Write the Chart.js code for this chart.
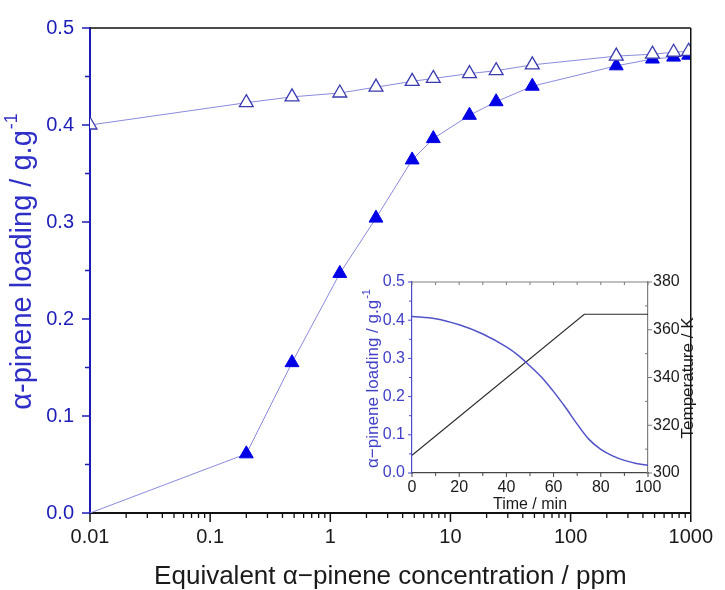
<!DOCTYPE html>
<html>
<head>
<meta charset="utf-8">
<script src="https://cdn.jsdelivr.net/npm/chart.js@4.4.1/dist/chart.umd.min.js"></script>
<style>
  html, body { margin: 0; padding: 0; background: #ffffff; }
  #wrap { position: relative; width: 725px; height: 590px; }
  #wrap canvas { position: absolute; left: 0; top: 0; }
</style>
</head>
<body>
<div id="wrap">
  <canvas id="main" width="725" height="590"></canvas>
  <canvas id="inset" width="725" height="590"></canvas>
</div>
<script>
// ---- Isotherm data: equivalent concentration (ppm) shared by both series ----
const concentration = [0.01, 0.2, 0.48, 1.2, 2.4, 4.8, 7.2, 14.4, 24, 48, 240, 480, 720, 960];
const loadingFilled = [0.000, 0.061, 0.155, 0.247, 0.304, 0.364, 0.386, 0.410, 0.424, 0.440, 0.461, 0.468, 0.470, 0.472];
const loadingOpen   = [0.400, 0.423, 0.429, 0.433, 0.439, 0.445, 0.448, 0.453, 0.456, 0.462, 0.471, 0.473, 0.475, 0.476];

// main axis ticks
const xTickValues = [0.01, 0.1, 1, 10, 100, 1000];
const yTickValues = [0, 0.1, 0.2, 0.3, 0.4, 0.5];
const yMinorValues = [0.05, 0.15, 0.25, 0.35, 0.45];

// ---- Inset: loading and temperature during the heating run ----
const timeMin     = [0, 10, 20, 30, 40, 45, 50, 55, 60, 65, 70, 75, 80, 85, 90, 95, 100];
const loadingTime = [0.410, 0.404, 0.388, 0.364, 0.330, 0.308, 0.280, 0.250, 0.213, 0.172, 0.128, 0.088, 0.062, 0.045, 0.033, 0.025, 0.020];
const rampTime    = [0, 73, 100];
const rampTemp    = [307.4, 366.5, 366.5];

// inset axis ticks
const insetXTicks = [0, 20, 40, 60, 80, 100];
const insetXMinor = [10, 30, 50, 70, 90];
const insetYTicks = [0, 0.1, 0.2, 0.3, 0.4, 0.5];
const insetYMinor = [0.05, 0.15, 0.25, 0.35, 0.45];
const insetTTicks = [300, 320, 340, 360, 380];
const insetTMinor = [310, 330, 350, 370];

const FONT = '"Liberation Sans", Arial, Helvetica, sans-serif';

// minor ticks of a log axis: 2..9 within each decade
function logMinor(decades) {
  const out = [];
  for (let i = 0; i < decades.length - 1; i++) {
    for (let k = 2; k <= 9; k++) out.push(decades[i] * k);
  }
  return out;
}

// Draws tick marks on chart-area edges through the chart's own scales
const tickMarks = {
  id: 'tickMarks',
  afterDraw(chart, args, opts) {
    const ctx = chart.ctx;
    const a = chart.chartArea;
    (opts.sets || []).forEach(s => {
      const scale = chart.scales[s.scale];
      ctx.save();
      ctx.strokeStyle = s.color;
      ctx.lineWidth = s.width;
      ctx.beginPath();
      s.values.forEach(v => {
        const p = scale.getPixelForValue(v);
        const d = s.len * (s.inward ? -1 : 1);
        if (s.edge === 'bottom') { ctx.moveTo(p, a.bottom); ctx.lineTo(p, a.bottom + d); }
        else if (s.edge === 'top') { ctx.moveTo(p, a.top); ctx.lineTo(p, a.top - d); }
        else if (s.edge === 'left') { ctx.moveTo(a.left, p); ctx.lineTo(a.left - d, p); }
        else if (s.edge === 'right') { ctx.moveTo(a.right, p); ctx.lineTo(a.right + d, p); }
      });
      ctx.stroke();
      ctx.restore();
    });
  }
};

// Frame lines along the top / right of the plotting area
const frame = {
  id: 'frame',
  afterDraw(chart, args, opts) {
    const ctx = chart.ctx;
    const a = chart.chartArea;
    (opts.lines || []).forEach(l => {
      ctx.save();
      ctx.strokeStyle = l.color;
      ctx.lineWidth = l.width;
      ctx.beginPath();
      if (l.edge === 'top') { ctx.moveTo(a.left, a.top); ctx.lineTo(a.right, a.top); }
      if (l.edge === 'right') { ctx.moveTo(a.right, a.top); ctx.lineTo(a.right, a.bottom); }
      ctx.stroke();
      ctx.restore();
    });
  }
};

// Rotated axis titles (bottom-to-top), with optional superscript
const sideTitles = {
  id: 'sideTitles',
  afterDraw(chart, args, opts) {
    const ctx = chart.ctx;
    (opts.items || []).forEach(t => {
      ctx.save();
      ctx.translate(t.x, t.y);
      ctx.rotate(-Math.PI / 2);
      ctx.fillStyle = t.color;
      ctx.textBaseline = 'middle';
      ctx.textAlign = 'left';
      const mainFont = t.size + 'px ' + FONT;
      const supFont = Math.round(t.size * 0.62) + 'px ' + FONT;
      ctx.font = mainFont;
      const w1 = ctx.measureText(t.text).width;
      let w2 = 0;
      if (t.sup) { ctx.font = supFont; w2 = ctx.measureText(t.sup).width; }
      const x0 = -(w1 + w2) / 2;
      ctx.font = mainFont;
      ctx.fillText(t.text, x0, 0);
      if (t.sup) {
        ctx.font = supFont;
        ctx.fillText(t.sup, x0 + w1 + 1, -t.size * 0.38);
      }
      ctx.restore();
    });
  }
};

const toXY = (xs, ys) => xs.map((x, i) => ({ x: x, y: ys[i] }));

// ---------------- main isotherm chart ----------------
const BLUE_AXIS = '#1c1cb4';
new Chart(document.getElementById('main'), {
  type: 'scatter',
  data: {
    datasets: [
      {
        label: 'open',
        data: toXY(concentration, loadingOpen),
        showLine: true,
        borderColor: '#8a8ade',
        borderWidth: 1,
        pointStyle: 'triangle',
        pointRadius: 8,
        pointBackgroundColor: '#ffffff',
        pointBorderColor: '#3a3ab0',
        pointBorderWidth: 1.3,
        order: 0
      },
      {
        label: 'filled',
        data: toXY(concentration, loadingFilled),
        showLine: true,
        borderColor: '#8a8ade',
        borderWidth: 1,
        pointStyle: 'triangle',
        // the corner point sits on the axes and carries no marker
        pointRadius: ctx => (ctx.dataIndex === 0 ? 0 : 8),
        pointBackgroundColor: '#0000e6',
        pointBorderColor: '#0000e6',
        pointBorderWidth: 1,
        order: 1
      }
    ]
  },
  options: {
    responsive: false,
    animation: false,
    events: [],
    layout: { padding: { left: 0, top: 23, right: 26, bottom: 0 } },
    plugins: {
      legend: { display: false },
      tooltip: { enabled: false },
      tickMarks: {
        sets: [
          { scale: 'x', edge: 'bottom', values: xTickValues, len: 9, color: '#111', width: 1.5 },
          { scale: 'x', edge: 'bottom', values: logMinor(xTickValues), len: 5, color: '#111', width: 1.3 },
          { scale: 'y', edge: 'left', values: yTickValues, len: 8, color: BLUE_AXIS, width: 1.5 },
          { scale: 'y', edge: 'left', values: yMinorValues, len: 5, color: BLUE_AXIS, width: 1.5 }
        ]
      },
      frame: { lines: [ { edge: 'top', color: '#111', width: 1.5 }, { edge: 'right', color: '#111', width: 1.5 } ] },
      sideTitles: {
        items: [ { text: 'α-pinene loading / g.g', sup: '-1', x: 23, y: 262, size: 29, color: '#2f2fc8' } ]
      }
    },
    scales: {
      x: {
        type: 'logarithmic',
        min: 0.01, max: 1000,
        afterBuildTicks: s => { s.ticks = xTickValues.map(v => ({ value: v })); },
        afterFit: s => { s.height = 77; },
        ticks: {
          callback: v => String(v),
          autoSkip: false, maxRotation: 0,
          font: { family: FONT, size: 20 },
          color: '#1a1a1a',
          padding: 12
        },
        grid: { display: false, drawTicks: false },
        border: { display: true, color: '#111', width: 2 },
        title: {
          display: true,
          text: 'Equivalent α−pinene concentration / ppm',
          font: { family: FONT, size: 26, lineHeight: 1 },
          color: '#1a1a1a',
          padding: 0
        }
      },
      y: {
        type: 'linear',
        min: 0, max: 0.5,
        afterBuildTicks: s => { s.ticks = yTickValues.map(v => ({ value: v })); },
        afterFit: s => { s.width = 90; },
        ticks: {
          callback: v => v.toFixed(1),
          font: { family: FONT, size: 20 },
          color: '#1c1cb8',
          padding: 16
        },
        grid: { display: false, drawTicks: false },
        border: { display: true, color: BLUE_AXIS, width: 2 }
      }
    }
  },
  plugins: [tickMarks, frame, sideTitles]
});

// ---------------- inset: heating run ----------------
const INSET_BLUE = '#4b4bcc';
new Chart(document.getElementById('inset'), {
  type: 'scatter',
  data: {
    datasets: [
      {
        label: 'loading',
        data: toXY(timeMin, loadingTime),
        yAxisID: 'y',
        showLine: true,
        borderColor: '#5252c8',
        borderWidth: 1.5,
        pointRadius: 0,
        cubicInterpolationMode: 'monotone'
      },
      {
        label: 'temperature',
        data: toXY(rampTime, rampTemp),
        yAxisID: 'y2',
        showLine: true,
        borderColor: '#2a2a2a',
        borderWidth: 1.2,
        pointRadius: 0,
        tension: 0
      }
    ]
  },
  options: {
    responsive: false,
    animation: false,
    events: [],
    layout: { padding: { left: 340, top: 282, right: 20, bottom: 77 } },
    plugins: {
      legend: { display: false },
      tooltip: { enabled: false },
      tickMarks: {
        sets: [
          { scale: 'x', edge: 'bottom', values: insetXTicks, len: 4, color: '#444', width: 1 },
          { scale: 'x', edge: 'bottom', values: insetXMinor, len: 3, color: '#444', width: 1 },
          { scale: 'x', edge: 'top', values: insetXMinor.concat(insetXTicks), len: 3, inward: true, color: '#777', width: 1 },
          { scale: 'y', edge: 'left', values: insetYTicks, len: 4, color: INSET_BLUE, width: 1 },
          { scale: 'y', edge: 'left', values: insetYMinor, len: 3, color: INSET_BLUE, width: 1 },
          { scale: 'y2', edge: 'right', values: insetTTicks, len: 4, color: '#777', width: 1 },
          { scale: 'y2', edge: 'right', values: insetTMinor, len: 3, inward: true, color: '#777', width: 1 }
        ]
      },
      frame: { lines: [ { edge: 'top', color: '#808080', width: 1.2 } ] },
      sideTitles: {
        items: [
          { text: 'α−pinene loading / g.g', sup: '-1', x: 373, y: 379, size: 17, color: '#4040c8' },
          { text: 'Temperature / K', x: 688, y: 378, size: 17, color: '#1a1a1a' }
        ]
      }
    },
    scales: {
      x: {
        type: 'linear',
        min: 0, max: 100,
        afterBuildTicks: s => { s.ticks = insetXTicks.map(v => ({ value: v })); },
        afterFit: s => { s.height = 40; },
        ticks: { font: { family: FONT, size: 16 }, color: '#1a1a1a', padding: 5, maxRotation: 0, autoSkip: false },
        grid: { display: false, drawTicks: false },
        border: { display: true, color: '#444', width: 1.2 },
        title: {
          display: true,
          text: 'Time / min',
          font: { family: FONT, size: 16, lineHeight: 1 },
          color: '#1a1a1a',
          padding: { top: 0, bottom: 0 }
        }
      },
      y: {
        type: 'linear',
        position: 'left',
        min: 0, max: 0.5,
        afterBuildTicks: s => { s.ticks = insetYTicks.map(v => ({ value: v })); },
        afterFit: s => { s.width = 72; },
        ticks: { callback: v => v.toFixed(1), font: { family: FONT, size: 16 }, color: '#4040c8', padding: 7 },
        grid: { display: false, drawTicks: false },
        border: { display: true, color: INSET_BLUE, width: 1.2 }
      },
      y2: {
        type: 'linear',
        position: 'right',
        min: 300, max: 380,
        afterBuildTicks: s => { s.ticks = insetTTicks.map(v => ({ value: v })); },
        afterFit: s => { s.width = 57; },
        ticks: { font: { family: FONT, size: 16 }, color: '#1a1a1a', padding: 5 },
        grid: { display: false, drawTicks: false },
        border: { display: true, color: '#808080', width: 1.2 }
      }
    }
  },
  plugins: [tickMarks, frame, sideTitles]
});
</script>
</body>
</html>
